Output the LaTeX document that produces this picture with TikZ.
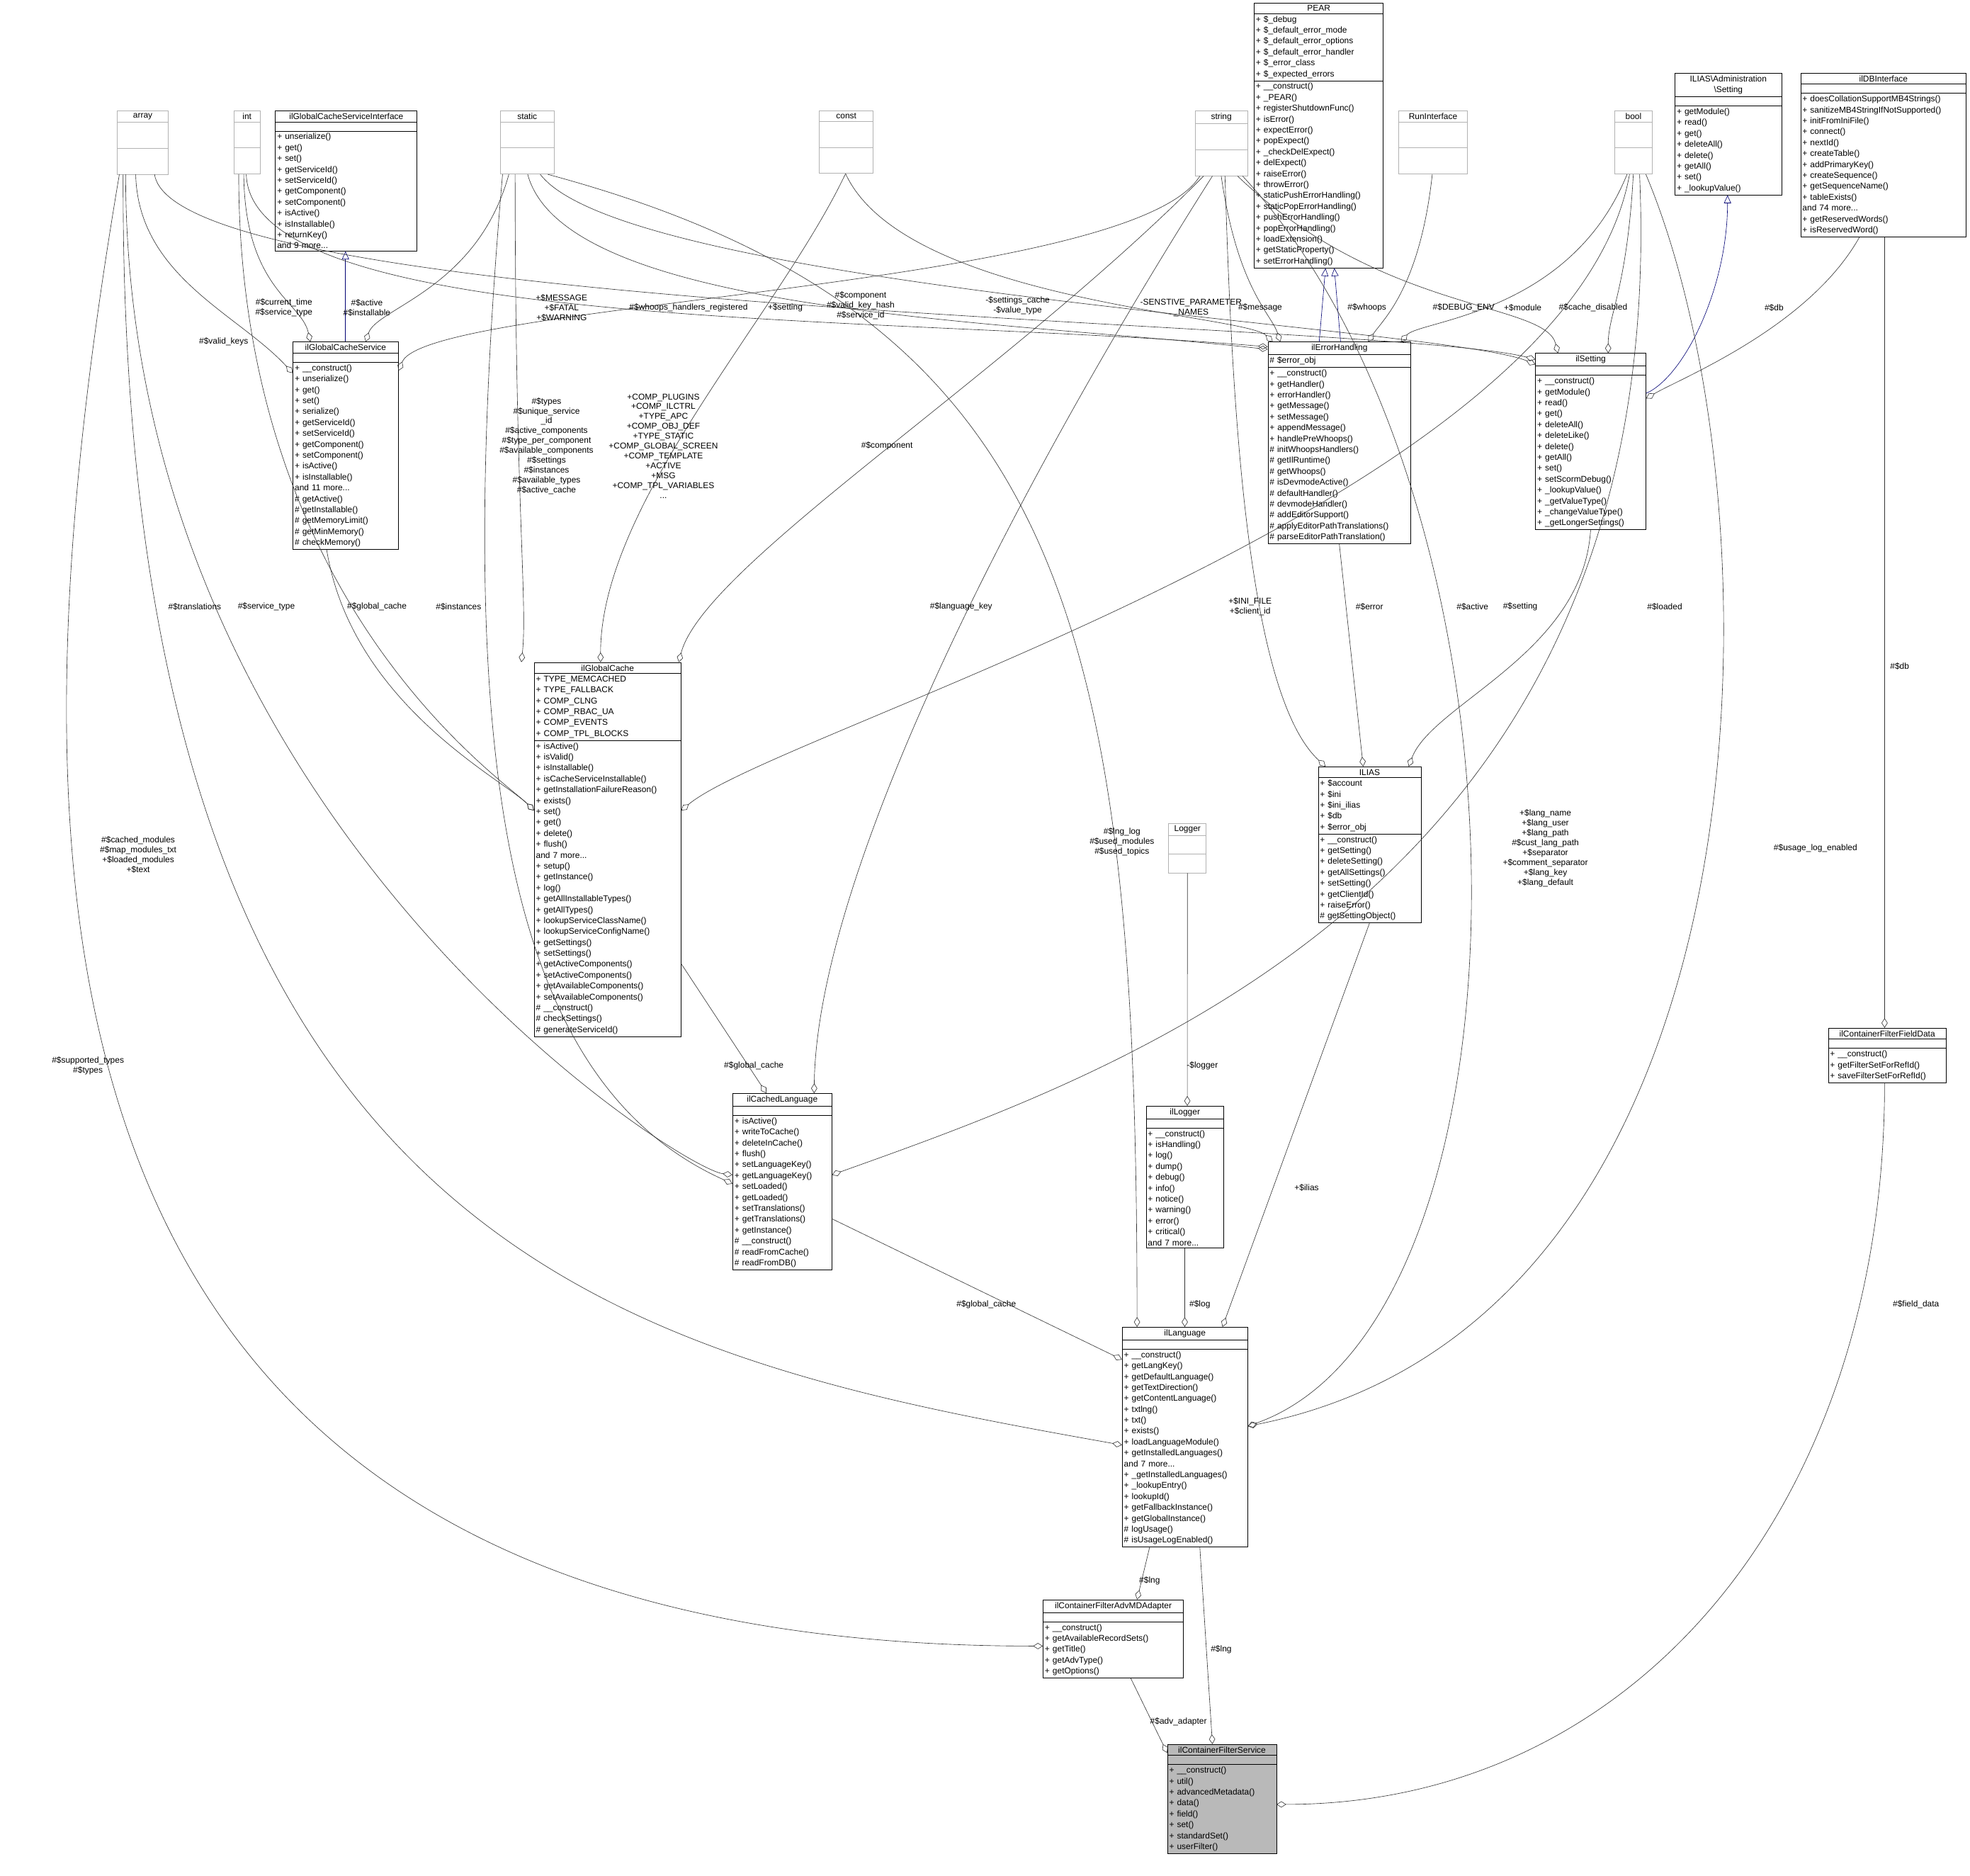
\documentclass[tikz,border=0pt]{standalone}
\usepackage{fontspec}
\setmainfont{Liberation Sans}
\usetikzlibrary{shapes.multipart,arrows.meta,calc}
\tikzset{
 cls/.style={draw=black,line width=0.6pt,rectangle split,rectangle split parts=3,anchor=north west,align=left,inner xsep=2pt,inner ysep=2.4pt,font=\fontsize{9.6}{12.35}\selectfont,fill=white},
 gcls/.style={cls,draw=gray!60},
 lbl/.style={font=\fontsize{9.6}{11.2}\selectfont,align=center,inner sep=0pt},
 comp/.style={draw=black!80,line width=0.5pt,-{Diamond[open,length=11pt,width=7pt]}},
 inh/.style={draw=blue!45!black,line width=0.5pt,-{Triangle[open,length=9pt,width=8pt]}}
}
\newcommand{\emptypart}{\rule{0pt}{5pt}}
\newcommand{\mycls}[8][]{\node[cls,#1,text width=#5cm] (#2) at (#3,#4) {\hfil #6\hfil\nodepart{two}#7\nodepart{three}#8};}
\newcommand{\mygray}[6]{\node[gcls,text width=#4cm] (#1) at (#2,#3) {\hfil #5\hfil\nodepart{two}\rule{0pt}{#6}\nodepart{three}\rule{0pt}{#6}};}
\begin{document}
\begin{tikzpicture}[x=0.05cm,y=-0.05cm]
\useasboundingbox[fill=white] (0,0) rectangle (1568,1493);
% gray type boxes
\mygray{arr}{93}{88}{1.9}{array}{0.85cm}
\mygray{int}{186}{88}{0.9}{int}{0.85cm}
\mygray{stat}{398}{88}{2.0}{static}{0.85cm}
\mygray{const}{652}{88}{2.0}{const}{0.85cm}
\mygray{str}{951}{88}{1.95}{string}{0.85cm}
\mygray{runi}{1113}{88}{2.6}{RunInterface}{0.85cm}
\mygray{bool}{1285}{88}{1.35}{bool}{0.85cm}
\mygray{logger}{930}{655}{1.35}{Logger}{0.55cm}
% classes
\mycls{gcsi}{219}{88}{5.5}{ilGlobalCacheServiceInterface}{\emptypart}{+ unserialize()\\+ get()\\+ set()\\+ getServiceId()\\+ setServiceId()\\+ getComponent()\\+ setComponent()\\+ isActive()\\+ isInstallable()\\+ returnKey()\\and 9 more...}
\mycls{pear}{998}{2}{5.0}{PEAR}{+ \$\_debug\\+ \$\_default\_error\_mode\\+ \$\_default\_error\_options\\+ \$\_default\_error\_handler\\+ \$\_error\_class\\+ \$\_expected\_errors}{+ \_\_construct()\\+ \_PEAR()\\+ registerShutdownFunc()\\+ isError()\\+ expectError()\\+ popExpect()\\+ \_checkDelExpect()\\+ delExpect()\\+ raiseError()\\+ throwError()\\+ staticPushErrorHandling()\\+ staticPopErrorHandling()\\+ pushErrorHandling()\\+ popErrorHandling()\\+ loadExtension()\\+ getStaticProperty()\\+ setErrorHandling()}
\mycls{adms}{1333}{58}{4.1}{ILIAS\textbackslash Administration\\\hfil\textbackslash Setting}{\emptypart}{+ getModule()\\+ read()\\+ get()\\+ deleteAll()\\+ delete()\\+ getAll()\\+ set()\\+ \_lookupValue()}
\mycls{dbi}{1433}{58}{6.45}{ilDBInterface}{\emptypart}{+ doesCollationSupportMB4Strings()\\+ sanitizeMB4StringIfNotSupported()\\+ initFromIniFile()\\+ connect()\\+ nextId()\\+ createTable()\\+ addPrimaryKey()\\+ createSequence()\\+ getSequenceName()\\+ tableExists()\\and 74 more...\\+ getReservedWords()\\+ isReservedWord()}
\mycls{gcs}{233}{272}{4.05}{ilGlobalCacheService}{\emptypart}{+ \_\_construct()\\+ unserialize()\\+ get()\\+ set()\\+ serialize()\\+ getServiceId()\\+ setServiceId()\\+ getComponent()\\+ setComponent()\\+ isActive()\\+ isInstallable()\\and 11 more...\\\# getActive()\\\# getInstallable()\\\# getMemoryLimit()\\\# getMinMemory()\\\# checkMemory()}
\mycls{eh}{1009}{272}{5.55}{ilErrorHandling}{\# \$error\_obj}{+ \_\_construct()\\+ getHandler()\\+ errorHandler()\\+ getMessage()\\+ setMessage()\\+ appendMessage()\\+ handlePreWhoops()\\\# initWhoopsHandlers()\\\# getIlRuntime()\\\# getWhoops()\\\# isDevmodeActive()\\\# defaultHandler()\\\# devmodeHandler()\\\# addEditorSupport()\\\# applyEditorPathTranslations()\\\# parseEditorPathTranslation()}
\mycls{set}{1222}{281}{4.25}{ilSetting}{\emptypart}{+ \_\_construct()\\+ getModule()\\+ read()\\+ get()\\+ deleteAll()\\+ deleteLike()\\+ delete()\\+ getAll()\\+ set()\\+ setScormDebug()\\+ \_lookupValue()\\+ \_getValueType()\\+ \_changeValueType()\\+ \_getLongerSettings()}
\mycls{gc}{425}{527}{5.7}{ilGlobalCache}{+ TYPE\_MEMCACHED\\+ TYPE\_FALLBACK\\+ COMP\_CLNG\\+ COMP\_RBAC\_UA\\+ COMP\_EVENTS\\+ COMP\_TPL\_BLOCKS}{+ isActive()\\+ isValid()\\+ isInstallable()\\+ isCacheServiceInstallable()\\+ getInstallationFailureReason()\\+ exists()\\+ set()\\+ get()\\+ delete()\\+ flush()\\and 7 more...\\+ setup()\\+ getInstance()\\+ log()\\+ getAllInstallableTypes()\\+ getAllTypes()\\+ lookupServiceClassName()\\+ lookupServiceConfigName()\\+ getSettings()\\+ setSettings()\\+ getActiveComponents()\\+ setActiveComponents()\\+ getAvailableComponents()\\+ setAvailableComponents()\\\# \_\_construct()\\\# checkSettings()\\\# generateServiceId()}
\mycls{ilias}{1049}{610}{3.95}{ILIAS}{+ \$account\\+ \$ini\\+ \$ini\_ilias\\+ \$db\\+ \$error\_obj}{+ \_\_construct()\\+ getSetting()\\+ deleteSetting()\\+ getAllSettings()\\+ setSetting()\\+ getClientId()\\+ raiseError()\\\# getSettingObject()}
\mycls{cffd}{1455}{818}{4.55}{ilContainerFilterFieldData}{\emptypart}{+ \_\_construct()\\+ getFilterSetForRefId()\\+ saveFilterSetForRefId()}
\mycls{illog}{912}{880}{2.95}{ilLogger}{\emptypart}{+ \_\_construct()\\+ isHandling()\\+ log()\\+ dump()\\+ debug()\\+ info()\\+ notice()\\+ warning()\\+ error()\\+ critical()\\and 7 more...}
\mycls{cl}{583}{870}{3.8}{ilCachedLanguage}{\emptypart}{+ isActive()\\+ writeToCache()\\+ deleteInCache()\\+ flush()\\+ setLanguageKey()\\+ getLanguageKey()\\+ setLoaded()\\+ getLoaded()\\+ setTranslations()\\+ getTranslations()\\+ getInstance()\\\# \_\_construct()\\\# readFromCache()\\\# readFromDB()}
\mycls{lang}{893}{1056}{4.85}{ilLanguage}{\emptypart}{+ \_\_construct()\\+ getLangKey()\\+ getDefaultLanguage()\\+ getTextDirection()\\+ getContentLanguage()\\+ txtlng()\\+ txt()\\+ exists()\\+ loadLanguageModule()\\+ getInstalledLanguages()\\and 7 more...\\+ \_getInstalledLanguages()\\+ \_lookupEntry()\\+ lookupId()\\+ getFallbackInstance()\\+ getGlobalInstance()\\\# logUsage()\\\# isUsageLogEnabled()}
\mycls{adv}{830}{1273}{5.45}{ilContainerFilterAdvMDAdapter}{\emptypart}{+ \_\_construct()\\+ getAvailableRecordSets()\\+ getTitle()\\+ getAdvType()\\+ getOptions()}
\mycls[fill=gray!55]{svc}{929}{1388}{4.2}{ilContainerFilterService}{\emptypart}{+ \_\_construct()\\+ util()\\+ advancedMetadata()\\+ data()\\+ field()\\+ set()\\+ standardSet()\\+ userFilter()}
% connectors
\draw[comp] ($(arr.south west)+(15,0)$) .. controls (110,220) and (190,250) .. ($(gcs.north west)+(0,25)$);
\draw[comp] ($(int.south west)+(8,0)$) .. controls (195,230) and (240,240) .. ($(gcs.north west)+(14,0)$);
\draw[inh] ($(gcs.north west)+(42,0)$) -- ($(gcsi.south west)+(56,0)$);
\draw[comp] ($(stat.south west)+(7,0)$) .. controls (380,230) and (300,245) .. ($(gcs.north west)+(58,0)$);
\draw[comp] ($(str.south west)+(4,0)$) .. controls (900,230) and (340,240) .. ($(gcs.north east)+(0,23)$);
\draw[comp] ($(int.south west)+(10,0)$) .. controls (200,265) and (700,250) .. ($(eh.north west)+(0,4)$);
\draw[comp] ($(arr.south west)+(30,0)$) .. controls (140,250) and (1100,255) .. ($(set.north west)+(0,5)$);
\draw[comp] ($(stat.south west)+(22,0)$) .. controls (450,250) and (800,255) .. ($(eh.north west)+(0,6)$);
\draw[comp] ($(stat.south west)+(32,0)$) .. controls (500,230) and (1150,260) .. ($(set.north west)+(0,9)$);
\draw[comp] ($(const.south west)+(21,0)$) .. controls (720,240) and (990,250) .. ($(eh.north west)+(4,0)$);
\draw[comp] ($(str.south west)+(21,0)$) .. controls (985,230) and (1012,250) .. ($(eh.north west)+(10,0)$);
\draw[inh] ($(eh.north west)+(41,0)$) -- ($(pear.south west)+(57,0)$);
\draw[inh] ($(eh.north west)+(58,0)$) -- ($(pear.south west)+(64,0)$);
\draw[comp] ($(runi.south west)+(27,0)$) .. controls (1130,230) and (1100,255) .. ($(eh.north west)+(80,0)$);
\draw[comp] ($(bool.south west)+(10,0)$) .. controls (1250,250) and (1130,255) .. ($(eh.north west)+(106,0)$);
\draw[comp] ($(str.south west)+(34,0)$) .. controls (1100,250) and (1230,240) .. ($(set.north west)+(18,0)$);
\draw[comp] ($(bool.south west)+(15,0)$) .. controls (1295,230) and (1280,250) .. ($(set.north west)+(58,0)$);
\draw[inh] ($(set.north east)+(0,32)$) .. controls (1340,300) and (1375,230) .. ($(adms.south west)+(42,0)$);
\draw[comp] ($(dbi.south west)+(47,0)$) .. controls (1440,260) and (1340,300) .. ($(set.north east)+(0,36)$);
\draw[comp] ($(dbi.south west)+(67,0)$) -- ($(cffd.north west)+(45,0)$);
\draw[comp] ($(int.south west)+(4,0)$) .. controls (190,480) and (400,620) .. ($(gc.north west)+(0,118)$);
\draw[comp] ($(arr.south west)+(7,0)$) .. controls (100,650) and (540,930) .. ($(cl.north west)+(0,65)$);
\draw[comp] ($(stat.south west)+(12,0)$) .. controls (410,400) and (420,480) .. ($(gc.north west)+(-10,0)$);
\draw[comp] ($(stat.south west)+(2,0)$) .. controls (360,600) and (400,860) .. ($(cl.north west)+(0,72)$);
\draw[comp] ($(const.south west)+(21,0)$) .. controls (620,250) and (478,400) .. ($(gc.north west)+(53,0)$);
\draw[comp] ($(str.south west)+(7,0)$) .. controls (800,300) and (560,450) .. ($(gc.north east)+(-2,0)$);
\draw[comp] ($(str.south west)+(14,0)$) .. controls (800,400) and (650,700) .. ($(cl.north west)+(65,0)$);
\draw[comp] ($(gcs.south west)+(27,0)$) .. controls (280,560) and (400,620) .. ($(gc.north west)+(0,118)$);
\draw[comp] ($(bool.south west)+(12,0)$) .. controls (1250,400) and (620,580) .. ($(gc.north east)+(0,118)$);
\draw[comp] ($(gc.north east)+(0,240)$) -- ($(cl.north west)+(27,0)$);
\draw[comp] ($(bool.south west)+(20,0)$) .. controls (1330,700) and (900,850) .. ($(cl.north east)+(0,65)$);
\draw[comp] ($(eh.south west)+(57,0)$) -- ($(ilias.north west)+(36,0)$);
\draw[comp] ($(str.south west)+(24,0)$) .. controls (980,300) and (990,550) .. ($(ilias.north west)+(6,0)$);
\draw[comp] ($(set.south west)+(44,0)$) .. controls (1260,520) and (1140,560) .. ($(ilias.north east)+(-10,0)$);
\draw[comp] ($(ilias.south west)+(41,0)$) -- ($(lang.north west)+(80,0)$);
\draw[comp] (logger.south) -- ($(illog.north west)+(33,0)$);
\draw[comp] ($(illog.south west)+(31,0)$) -- ($(lang.north west)+(50,0)$);
\draw[comp] ($(cl.north east)+(0,100)$) -- ($(lang.north west)+(0,26)$);
\draw[comp] ($(arr.south west)+(5,0)$) .. controls (95,1000) and (500,1080) .. ($(lang.north west)+(0,94)$);
\draw[comp] ($(str.south west)+(38,0)$) .. controls (1230,400) and (1230,1050) .. ($(lang.north east)+(0,79)$);
\draw[comp] ($(bool.south west)+(25,0)$) .. controls (1420,400) and (1420,1050) .. ($(lang.north east)+(0,79)$);
\draw[comp] ($(stat.south west)+(38,0)$) .. controls (850,250) and (905,500) .. ($(lang.north west)+(12,0)$);
\draw[comp] ($(arr.south west)+(2,0)$) .. controls (0,700) and (0,1310) .. ($(adv.north west)+(0,37)$);
\draw[comp] ($(lang.south west)+(22,0)$) -- ($(adv.north west)+(75,0)$);
\draw[comp] ($(lang.south west)+(62,0)$) -- ($(svc.north west)+(36,0)$);
\draw[comp] ($(adv.south west)+(70,0)$) -- ($(svc.north west)+(0,7)$);
\draw[comp] ($(cffd.south west)+(45,0)$) .. controls (1500,1200) and (1300,1436) .. ($(svc.north west)+(87,48)$);
% labels
\node[lbl] (l1) at (178,272) {\#\$valid\_keys};
\node[lbl] (l2) at (226,245) {\#\$current\_time\\\#\$service\_type};
\node[lbl] (l3) at (292,245) {\#\$active\\\#\$installable};
\node[lbl] (l4) at (685,243) {\#\$component\\\#\$valid\_key\_hash\\\#\$service\_id};
\node[lbl] (l5) at (447,245) {+\$MESSAGE\\+\$FATAL\\+\$WARNING};
\node[lbl] (l6) at (625,245) {+\$setting};
\node[lbl] (l7) at (548,245) {\#\$whoops\_handlers\_registered};
\node[lbl] (l8) at (810,243) {-\$settings\_cache\\-\$value\_type};
\node[lbl] (l9) at (948,245) {-SENSTIVE\_PARAMETER\\\_NAMES};
\node[lbl] (l10) at (1003,245) {\#\$message};
\node[lbl] (l11) at (1088,245) {\#\$whoops};
\node[lbl] (l12) at (1165,245) {\#\$DEBUG\_ENV};
\node[lbl] (l13) at (1212,245) {+\$module};
\node[lbl] (l14) at (1268,245) {\#\$cache\_disabled};
\node[lbl] (l15) at (1412,245) {\#\$db};
\node[lbl] (l16) at (1512,530) {\#\$db};
\node[lbl] (l17) at (212,483) {\#\$service\_type};
\node[lbl] (l18) at (155,483) {\#\$translations};
\node[lbl] (l19) at (435,355) {\#\$types\\\#\$unique\_service\\\_id\\\#\$active\_components\\\#\$type\_per\_component\\\#\$available\_components\\\#\$settings\\\#\$instances\\\#\$available\_types\\\#\$active\_cache};
\node[lbl] (l20) at (365,483) {\#\$instances};
\node[lbl] (l21) at (528,355) {+COMP\_PLUGINS\\+COMP\_ILCTRL\\+TYPE\_APC\\+COMP\_OBJ\_DEF\\+TYPE\_STATIC\\+COMP\_GLOBAL\_SCREEN\\+COMP\_TEMPLATE\\+ACTIVE\\+MSG\\+COMP\_TPL\_VARIABLES\\...};
\node[lbl] (l22) at (706,355) {\#\$component};
\node[lbl] (l23) at (765,483) {\#\$language\_key};
\node[lbl] (l24) at (300,483) {\#\$global\_cache};
\node[lbl] (l25) at (1172,483) {\#\$active};
\node[lbl] (l26) at (600,848) {\#\$global\_cache};
\node[lbl] (l27) at (1325,483) {\#\$loaded};
\node[lbl] (l28) at (1090,483) {\#\$error};
\node[lbl] (l29) at (995,483) {+\$INI\_FILE\\+\$client\_id};
\node[lbl] (l30) at (1210,483) {\#\$setting};
\node[lbl] (l31) at (1040,945) {+\$ilias};
\node[lbl] (l32) at (957,848) {-\$logger};
\node[lbl] (l33) at (955,1038) {\#\$log};
\node[lbl] (l34) at (785,1038) {\#\$global\_cache};
\node[lbl] (l35) at (110,680) {\#\$cached\_modules\\\#\$map\_modules\_txt\\+\$loaded\_modules\\+\$text};
\node[lbl] (l36) at (1230,675) {+\$lang\_name\\+\$lang\_user\\+\$lang\_path\\\#\$cust\_lang\_path\\+\$separator\\+\$comment\_separator\\+\$lang\_key\\+\$lang\_default};
\node[lbl] (l37) at (1445,675) {\#\$usage\_log\_enabled};
\node[lbl] (l38) at (893,670) {\#\$lng\_log\\\#\$used\_modules\\\#\$used\_topics};
\node[lbl] (l39) at (70,848) {\#\$supported\_types\\\#\$types};
\node[lbl] (l40) at (915,1258) {\#\$lng};
\node[lbl] (l41) at (972,1313) {\#\$lng};
\node[lbl] (l42) at (938,1370) {\#\$adv\_adapter};
\node[lbl] (l43) at (1525,1038) {\#\$field\_data};
\end{tikzpicture}
\end{document}
